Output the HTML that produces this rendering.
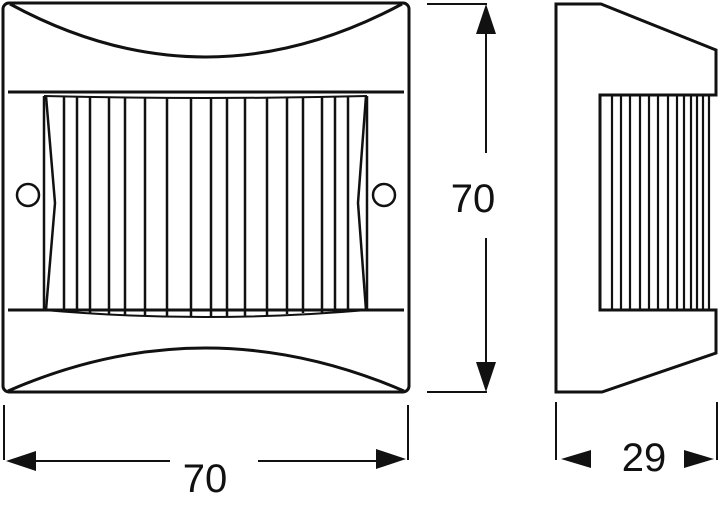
<!DOCTYPE html>
<html><head><style>body{margin:0;background:#fff}svg{display:block}</style></head><body>
<svg width="720" height="507" viewBox="0 0 720 507" xmlns="http://www.w3.org/2000/svg">
<g fill="none" stroke="#111" stroke-width="3">
<rect x="3" y="3" width="406" height="389" rx="6"/>
<path d="M10 4 Q205 110 402 4"/>
<path d="M8 391 Q205 305 404 391"/>
<line x1="8" y1="92" x2="404" y2="92"/>
<line x1="8" y1="310" x2="404" y2="310"/>
<path d="M44 96 Q205 100 367 96" stroke-width="2"/>
<path d="M44 310 Q205 324 367 310" stroke-width="2"/>
<circle cx="28" cy="195" r="11" stroke-width="2.5"/>
<circle cx="384" cy="195" r="11" stroke-width="2.5"/>
<path d="M46 96 L55 203 L46 310" stroke-width="2.5"/>
<path d="M366 96 L358 203 L366 310" stroke-width="2.5"/>
</g>
<g stroke="#111" stroke-width="2.5">
<line x1="44" y1="96" x2="44" y2="310"/>
<line x1="367" y1="96" x2="367" y2="310"/>
<line x1="64" y1="97" x2="64" y2="312"/>
<line x1="77" y1="97" x2="77" y2="312"/>
<line x1="90" y1="97" x2="90" y2="313"/>
<line x1="109" y1="97" x2="109" y2="314"/>
<line x1="125" y1="98" x2="125" y2="315"/>
<line x1="145" y1="98" x2="145" y2="315"/>
<line x1="167" y1="98" x2="167" y2="316"/>
<line x1="191" y1="98" x2="191" y2="316"/>
<line x1="211" y1="98" x2="211" y2="317"/>
<line x1="227" y1="98" x2="227" y2="316"/>
<line x1="245" y1="98" x2="245" y2="316"/>
<line x1="267" y1="98" x2="267" y2="315"/>
<line x1="287" y1="98" x2="287" y2="314"/>
<line x1="303" y1="97" x2="303" y2="313"/>
<line x1="322" y1="97" x2="322" y2="313"/>
<line x1="335" y1="97" x2="335" y2="312"/>
<line x1="348" y1="97" x2="348" y2="312"/>
</g>
<!-- side view -->
<path d="M556 4 L601 4 L716 50 L716 95 L600 95 L600 310 L716 310 L716 353 L602 392 L556 392 Z" fill="none" stroke="#111" stroke-width="3"/>
<g stroke="#111" stroke-width="2.2">
<line x1="612" y1="96" x2="612" y2="310"/><line x1="621" y1="96" x2="621" y2="310"/>
<line x1="630" y1="96" x2="630" y2="310"/><line x1="640" y1="96" x2="640" y2="310"/>
<line x1="649" y1="96" x2="649" y2="310"/><line x1="658" y1="96" x2="658" y2="310"/>
<line x1="668" y1="96" x2="668" y2="310"/><line x1="677" y1="96" x2="677" y2="310"/>
<line x1="684" y1="96" x2="684" y2="310"/><line x1="691" y1="96" x2="691" y2="310"/>
<line x1="697" y1="96" x2="697" y2="310"/><line x1="703" y1="96" x2="703" y2="310"/>
<line x1="709" y1="96" x2="709" y2="310"/>
</g>
<!-- dimensions -->
<g stroke="#111" stroke-width="2">
<line x1="427" y1="4" x2="487" y2="4"/><line x1="427" y1="392" x2="487" y2="392"/>
<line x1="486" y1="30" x2="486" y2="153"/><line x1="486" y1="238" x2="486" y2="366"/>
<line x1="4" y1="405" x2="4" y2="460"/><line x1="408" y1="405" x2="408" y2="460"/>
<line x1="30" y1="461" x2="170" y2="461"/><line x1="258" y1="461" x2="382" y2="461"/>
<line x1="556" y1="402" x2="556" y2="460"/><line x1="717" y1="402" x2="717" y2="460"/>
</g>
<g fill="#111">
<polygon points="486,4 476,34 496,34"/>
<polygon points="486,392 476,362 496,362"/>
<polygon points="6,461 36,451 36,471"/>
<polygon points="406,459 376,449 376,469"/>
<polygon points="561,459 591,450 591,468"/>
<polygon points="714,459 684,450 684,468"/>
</g>
<g font-family="Liberation Sans, sans-serif" font-size="40" fill="#111" text-anchor="middle">
<text x="473" y="212">70</text>
<text x="205" y="492">70</text>
<text x="644" y="471">29</text>
</g>
</svg>
</body></html>
